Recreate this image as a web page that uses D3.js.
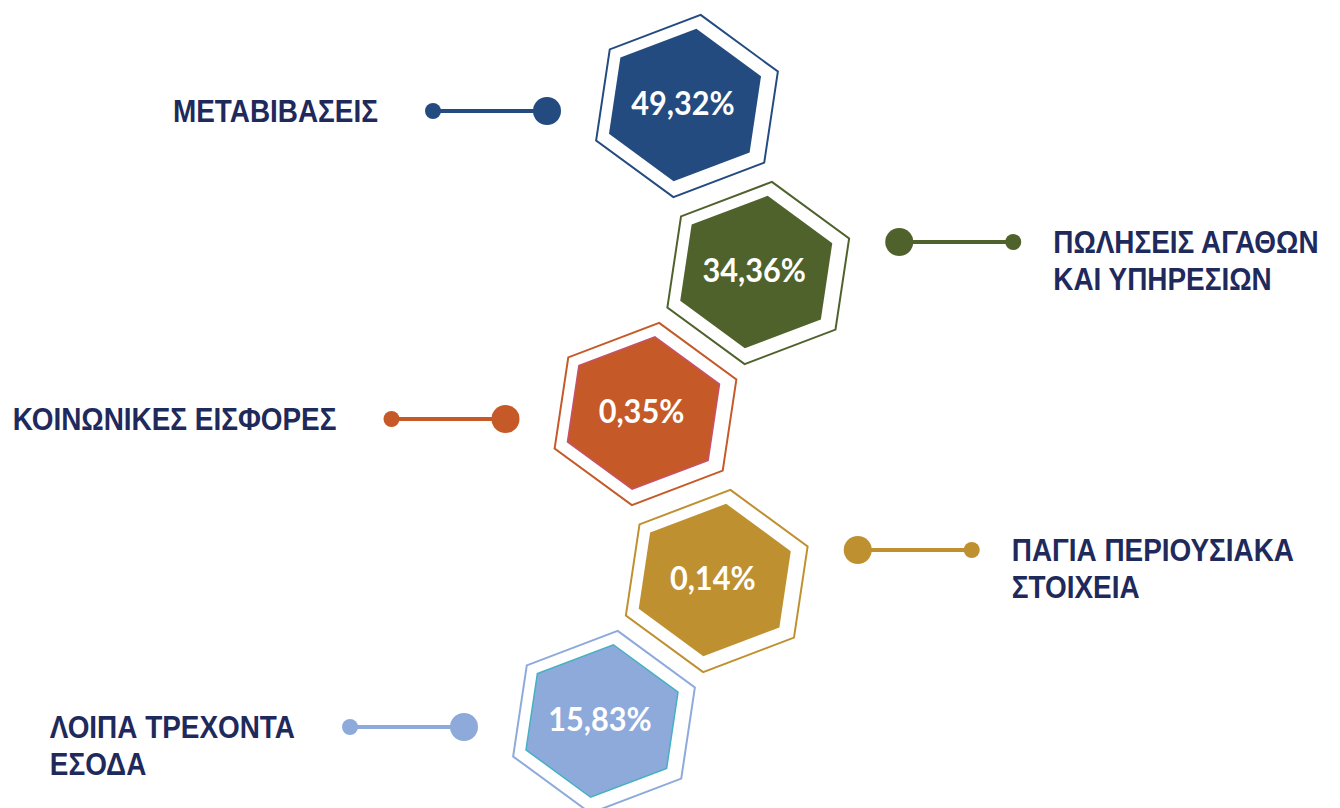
<!DOCTYPE html>
<html>
<head>
<meta charset="utf-8">
<script src="https://cdn.jsdelivr.net/npm/d3@7"></script>
<style>
body { margin: 0; background: #fff; }
svg { display: block; }
</style>
</head>
<body>
<script>
(function(){

// Chart data
var categories = ["ΜΕΤΑΒΙΒΑΣΕΙΣ", "ΠΩΛΗΣΕΙΣ ΑΓΑΘΩΝ\nΚΑΙ ΥΠΗΡΕΣΙΩΝ", "ΚΟΙΝΩΝΙΚΕΣ ΕΙΣΦΟΡΕΣ", "ΠΑΓΙΑ ΠΕΡΙΟΥΣΙΑΚΑ\nΣΤΟΙΧΕΙΑ", "ΛΟΙΠΑ ΤΡΕΧΟΝΤΑ\nΕΣΟΔΑ"];
var shares = [49.32, 34.36, 0.35, 0.14, 15.83];
var colors = ["#234b80", "#4f622c", "#c55a28", "#bf9030", "#8eaadb"];
var edgeColors = [null, null, "#c8506a", null, "#45b0c4"];

var width = 1340, height = 808;
var labelColor = "#1f2a5c";

// Greek number format: comma decimal
var locale = d3.formatLocale({decimal: ",", thousands: ".", grouping: [3], currency: ["", "€"]});
var fmt = locale.format(".2f");

var items = categories.map(function(c, i){
    return {name: c, value: shares[i], color: colors[i], edge: edgeColors[i], index: i, right: i % 2 === 1};
});

var svg = d3.select("body").append("svg")
    .attr("width", width)
    .attr("height", height);

// Zig-zag layout: one hexagon per row, odd rows pushed right and a bit lower
var y = d3.scalePoint().domain(d3.range(items.length)).range([106, 722]);
var xDrift = d3.scaleLinear().domain([0, items.length - 1]).range([687, 604]);
var zigX = 92, zigY = 13;

items.forEach(function(d){
    d.cx = xDrift(d.index) + (d.right ? zigX : 0);
    d.cy = y(d.index) + (d.right ? zigY : 0);
});

// hexagon with slight tilt
var tilt = 8;
var line = d3.line().curve(d3.curveLinearClosed);
function hex(cx, cy, rx, ry){
    return line(d3.range(6).map(function(k){
        var a = (tilt - 90 + 60 * k) * Math.PI / 180;
        return [cx + rx * Math.cos(a), cy + ry * Math.sin(a)];
    }));
}

var g = svg.selectAll(".item")
    .data(items)
    .enter()
    .append("g")
    .attr("class", "item");

// outer outline
g.append("path")
    .attr("d", function(d){ return hex(d.cx, d.cy, 98, 92); })
    .attr("fill", "#fff")
    .attr("stroke", function(d){ return d.color; })
    .attr("stroke-width", 2);

// inner filled hexagon
g.append("path")
    .attr("d", function(d){ return hex(d.cx - 2, d.cy - 1, 82, 77); })
    .attr("fill", function(d){ return d.color; })
    .attr("stroke", function(d){ return d.edge || "none"; })
    .attr("stroke-width", 1.5);

g.append("text")
    .attr("transform", function(d){ return "translate(" + (d.cx - 4) + "," + (d.cy + 9) + ") scale(0.93,1)"; })
    .attr("text-anchor", "middle")
    .style("font-family", "Lato, 'Open Sans', sans-serif")
    .style("font-weight", "bold")
    .style("font-size", "33px")
    .attr("fill", "#fff")
    .text(function(d){ return fmt(d.value) + "%"; });

// connectors
var stem = 114;
items.forEach(function(d){
    if (d.right) {
        d.bigX = d.cx + 141; d.dotY = d.cy - 31;
        d.smallX = d.bigX + stem;
    } else {
        d.bigX = d.cx - 140; d.dotY = d.cy + 5;
        d.smallX = d.bigX - stem;
    }
});

g.append("line")
    .attr("x1", function(d){ return d.bigX; })
    .attr("x2", function(d){ return d.smallX; })
    .attr("y1", function(d){ return d.dotY; })
    .attr("y2", function(d){ return d.dotY; })
    .attr("stroke", function(d){ return d.color; })
    .attr("stroke-width", 4);

g.append("circle")
    .attr("cx", function(d){ return d.bigX; })
    .attr("cy", function(d){ return d.dotY; })
    .attr("r", 14)
    .attr("fill", function(d){ return d.color; });

g.append("circle")
    .attr("cx", function(d){ return d.smallX; })
    .attr("cy", function(d){ return d.dotY; })
    .attr("r", 8)
    .attr("fill", function(d){ return d.color; });

// labels, squeezed horizontally to mimic the narrow face of the original
var fontSize = 31, lineH = 37, squeeze = 0.9;
var label = g.append("text")
    .style("font-family", "'Liberation Sans', Arial, sans-serif")
    .style("font-weight", "bold")
    .style("font-size", fontSize + "px")
    .attr("fill", labelColor);

label.selectAll("tspan")
    .data(function(d){ return d.name.split("\n"); })
    .enter()
    .append("tspan")
    .attr("x", 0)
    .attr("y", function(t, i){ return i * lineH; })
    .text(function(t){ return t; });

label.each(function(d){
    var el = d3.select(this);
    var w = 0;
    el.selectAll("tspan").each(function(){ w = Math.max(w, this.getComputedTextLength()); });
    w *= squeeze;
    var x0 = d.right ? d.smallX + 40 : d.smallX - 55 - w;
    el.attr("transform", "translate(" + x0 + "," + (d.dotY + 11) + ") scale(" + squeeze + ",1)");
});

})();
</script>
</body>
</html>
